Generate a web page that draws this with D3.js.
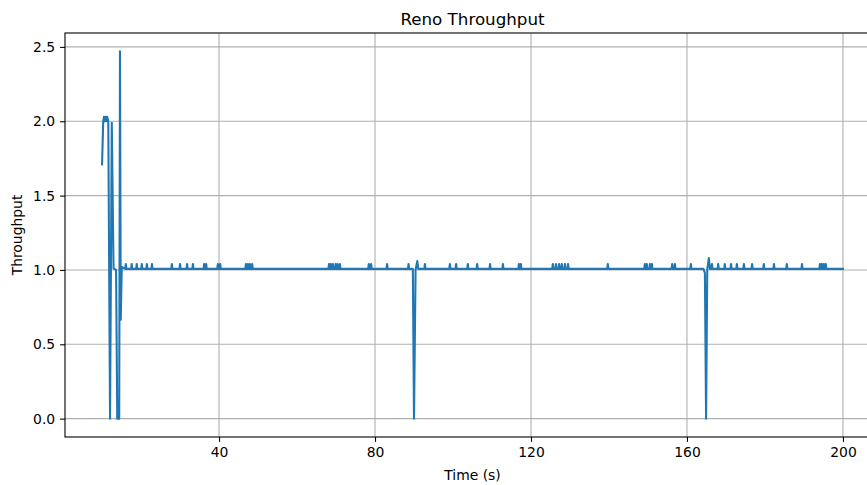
<!DOCTYPE html>
<meta charset="utf-8">
<head>
    <title>Reno Throughput</title>
    <script type="text/javascript" src="https://cdn.jsdelivr.net/npm/d3@7"></script>
    <style>
        body { margin: 0; background: white; }
        text { font-family: "DejaVu Sans", sans-serif; fill: black; }
    </style>
</head>
<body>
<script>

// data
var startT = [10.0, 10.3, 10.5, 10.7, 10.9, 11.1, 11.3, 11.6, 12.05, 12.5, 12.95, 13.6, 13.9, 14.4, 14.6, 14.8, 15.05]
var startV = [1.71, 2.0, 2.03, 2.0, 2.03, 2.0, 2.03, 2.0, 0, 1.99, 1.01, 1.0, 0, 0, 2.47, 0.665, 1.02]

var dipT = [89.7, 90.0, 90.4, 90.85, 91.1, 164.2, 164.6, 164.9, 165.2, 165.6, 165.9]
var dipV = [1.007, 0, 1.0, 1.06, 1.007, 1.007, 0.98, 0, 1.0, 1.08, 1.007]

var baseline = 1.007
var spikeV = 1.04
var spikeT = [16.1, 17.6, 18.9, 20.2, 21.5, 22.8, 27.9, 30.0, 31.8, 33.3, 36.2, 36.7, 39.7, 40.3,
    46.9, 47.4, 47.9, 48.5, 68.2, 68.7, 69.2, 69.9, 70.4, 71.0, 78.4, 79.0, 83.1, 88.6,
    92.8, 99.2, 100.8, 103.8, 106.2, 109.5, 112.8, 116.9, 117.4, 125.6, 126.4, 127.2, 127.9,
    128.7, 129.5, 139.7, 149.2, 149.7, 150.5, 151.0, 156.2, 156.9, 161.0, 166.4, 168.0, 169.7,
    171.3, 172.8, 174.6, 176.7, 179.7, 182.3, 185.6, 189.5, 194.1, 194.6, 195.1, 195.6]
var endT = 200

var xTicks = [40, 80, 120, 160, 200]
var yTicks = [0, 0.5, 1.0, 1.5, 2.0, 2.5]

// build the series
var pts = []
for (var i = 0; i < startT.length; i++) pts.push([startT[i], startV[i]])
for (var i = 0; i < dipT.length; i++) pts.push([dipT[i], dipV[i]])
for (var t of spikeT) {
    pts.push([t - 0.15, baseline])
    pts.push([t, spikeV])
    pts.push([t + 0.15, baseline])
}
pts.push([endT, baseline])
pts.sort(function(a, b) { return a[0] - b[0] })

// svg
var w = 867
var h = 485
var pL = 65, pR = 880, pT = 33, pB = 437

var svg = d3.select("body").append("svg").attr("width", w).attr("height", h)

// matplotlib style 5% margins
var xe = d3.extent(pts, function(d) { return d[0] })
var ye = d3.extent(pts, function(d) { return d[1] })
var xp = (xe[1] - xe[0]) * 0.05, yp = (ye[1] - ye[0]) * 0.05
var x = d3.scaleLinear().domain([xe[0] - xp, xe[1] + xp]).range([pL, pR])
var y = d3.scaleLinear().domain([ye[0] - yp, ye[1] + yp]).range([pB, pT])

// grid
svg.append("g").selectAll("line").data(xTicks).enter().append("line")
    .attr("x1", function(d) { return x(d) }).attr("x2", function(d) { return x(d) })
    .attr("y1", pT).attr("y2", pB)
    .style("stroke", "#b0b0b0").style("stroke-width", 1.1)
svg.append("g").selectAll("line").data(yTicks).enter().append("line")
    .attr("y1", function(d) { return y(d) }).attr("y2", function(d) { return y(d) })
    .attr("x1", pL).attr("x2", pR)
    .style("stroke", "#b0b0b0").style("stroke-width", 1.1)

// line
var line = d3.line().x(function(d) { return x(d[0]) }).y(function(d) { return y(d[1]) })
svg.append("path")
    .datum(pts)
    .attr("d", line)
    .style("fill", "none")
    .style("stroke", "#1f77b4")
    .style("stroke-width", 2.08)
    .style("stroke-linejoin", "round")
    .style("stroke-linecap", "square")

// axes
svg.append("g")
    .attr("transform", "translate(0," + pB + ")")
    .call(d3.axisBottom(x).tickValues(xTicks).tickFormat(d3.format("d")).tickSize(4.9).tickPadding(4.9))
svg.append("g")
    .attr("transform", "translate(" + pL + ",0)")
    .call(d3.axisLeft(y).tickValues(yTicks).tickFormat(d3.format(".1f")).tickSize(4.9).tickPadding(4.9))
svg.selectAll(".domain").remove()
svg.selectAll(".tick line").style("stroke", "black").style("stroke-width", 1.1)
svg.selectAll(".tick text").style("font-size", "13.9px").style("font-family", "DejaVu Sans")

// spines
svg.append("rect")
    .attr("x", pL).attr("y", pT)
    .attr("width", pR - pL).attr("height", pB - pT)
    .style("fill", "none").style("stroke", "black").style("stroke-width", 1.1)

// labels
svg.append("text")
    .attr("x", (pL + pR) / 2).attr("y", 25)
    .attr("text-anchor", "middle")
    .style("font-size", "16.7px")
    .text("Reno Throughput")
svg.append("text")
    .attr("x", (pL + pR) / 2).attr("y", 480)
    .attr("text-anchor", "middle")
    .style("font-size", "13.9px")
    .text("Time (s)")
svg.append("text")
    .attr("transform", "translate(22," + (pT + pB) / 2 + ") rotate(-90)")
    .attr("text-anchor", "middle")
    .style("font-size", "13.9px")
    .text("Throughput")

</script>
</body>
</html>
